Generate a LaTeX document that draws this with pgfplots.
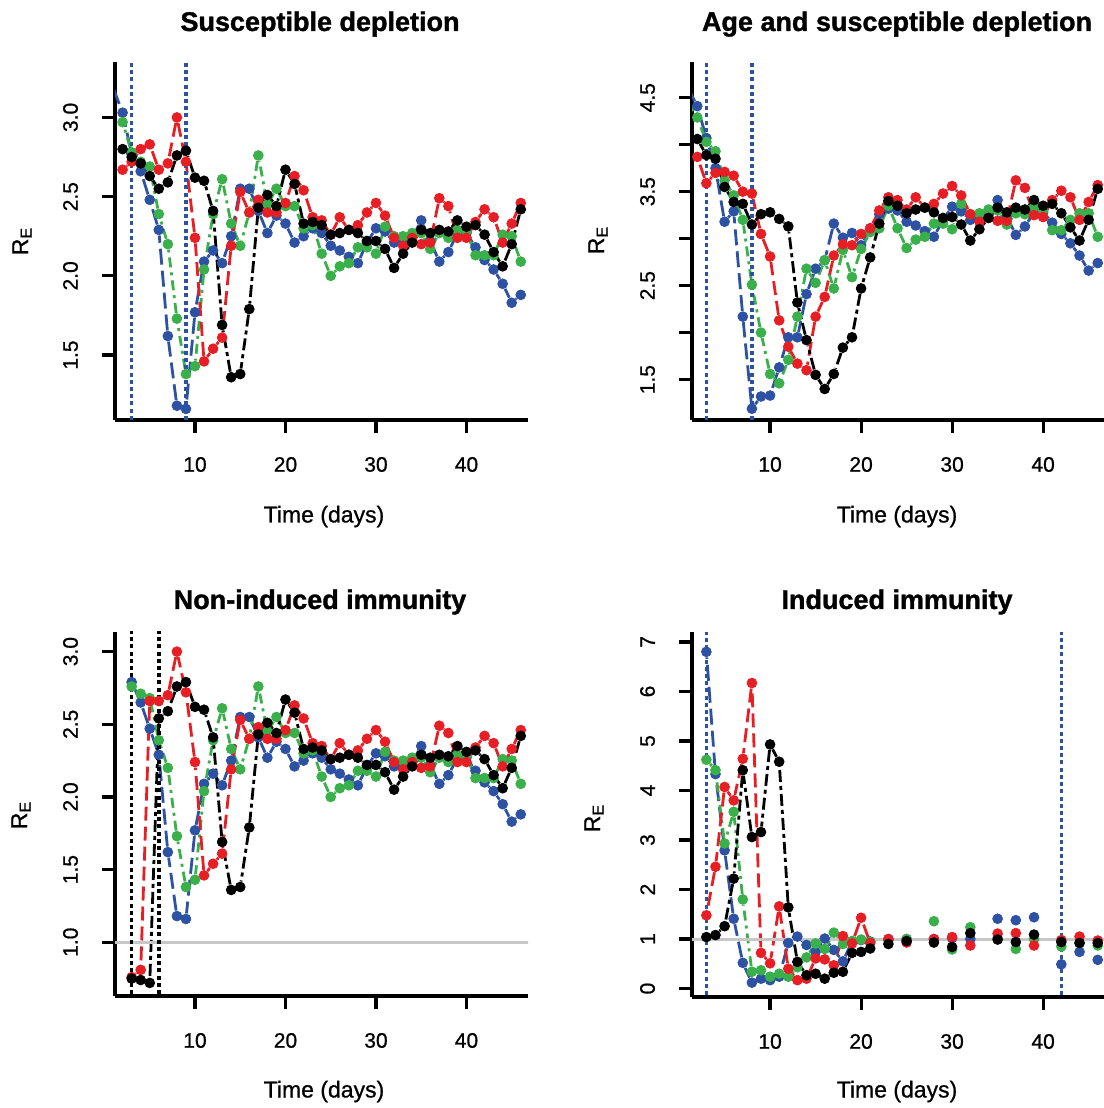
\documentclass[border=0pt]{standalone}
\usepackage{fontspec}
\setmainfont{Liberation Sans}
\newfontfamily\labfont{Liberation Sans}[FakeBold=0.8]
\newfontfamily\titfont{Liberation Sans}[BoldFeatures={FakeBold=1.2}]
\usepackage{pgfplots}
\pgfplotsset{compat=1.18}
\usepackage{pgfplotstable}

\definecolor{rblue}{RGB}{46,82,163}
\definecolor{rred}{RGB}{232,30,37}
\definecolor{rgreen}{RGB}{57,176,74}

\pgfplotstableread{
d b g r k
2 3.03 2.97 2.67 2.80
3 2.77 2.78 2.72 2.75
4 2.66 2.72 2.80 2.71
5 2.48 2.69 2.83 2.63
6 2.29 2.39 2.67 2.55
7 1.62 2.20 2.71 2.59
8 1.18 1.73 3.00 2.76
9 1.16 1.38 2.72 2.79
10 1.77 1.43 2.24 2.62
11 2.09 2.04 1.46 2.60
12 2.16 2.39 1.54 2.41
13 2.08 2.61 1.61 1.69
14 2.25 2.33 2.19 1.36
15 2.55 2.19 2.53 1.38
16 2.55 2.40 2.40 1.79
17 2.41 2.76 2.48 2.43
18 2.27 2.45 2.40 2.51
19 2.38 2.55 2.40 2.44
20 2.33 2.44 2.46 2.67
21 2.21 2.44 2.63 2.58
22 2.25 2.30 2.54 2.33
23 2.30 2.32 2.37 2.34
24 2.27 2.14 2.35 2.32
25 2.19 2.00 2.26 2.26
26 2.16 2.06 2.37 2.27
27 2.12 2.08 2.29 2.29
28 2.08 2.18 2.32 2.27
29 2.21 2.18 2.40 2.22
30 2.30 2.14 2.46 2.22
31 2.28 2.31 2.38 2.17
32 2.21 2.25 2.24 2.05
33 2.21 2.25 2.19 2.14
34 2.24 2.27 2.24 2.21
35 2.35 2.27 2.20 2.29
36 2.22 2.17 2.21 2.27
37 2.09 2.27 2.49 2.29
38 2.15 2.24 2.44 2.28
39 2.27 2.29 2.24 2.35
40 2.27 2.28 2.24 2.31
41 2.18 2.13 2.34 2.32
42 2.10 2.13 2.42 2.26
43 2.04 2.13 2.37 2.15
44 1.95 2.26 2.21 2.06
45 1.83 2.25 2.33 2.20
46 1.88 2.09 2.46 2.42
}\Pone

\pgfplotstableread{
d b g r k
3 2.79 2.76 0.76 0.75
4 2.65 2.71 0.81 0.74
5 2.47 2.68 2.66 0.72
6 2.29 2.39 2.66 2.54
7 1.62 2.20 2.70 2.59
8 1.18 1.73 3.00 2.76
9 1.16 1.38 2.72 2.79
10 1.77 1.43 2.24 2.62
11 2.09 2.04 1.46 2.60
12 2.16 2.39 1.54 2.41
13 2.08 2.61 1.61 1.69
14 2.25 2.33 2.19 1.36
15 2.55 2.19 2.53 1.38
16 2.55 2.40 2.40 1.79
17 2.41 2.76 2.48 2.43
18 2.27 2.45 2.40 2.51
19 2.38 2.55 2.40 2.44
20 2.33 2.44 2.46 2.67
21 2.21 2.44 2.63 2.58
22 2.25 2.30 2.54 2.33
23 2.30 2.32 2.37 2.34
24 2.27 2.14 2.35 2.32
25 2.19 2.00 2.26 2.26
26 2.16 2.06 2.37 2.27
27 2.12 2.08 2.29 2.29
28 2.08 2.18 2.32 2.27
29 2.21 2.18 2.40 2.22
30 2.30 2.14 2.46 2.22
31 2.28 2.31 2.38 2.17
32 2.21 2.25 2.24 2.05
33 2.21 2.25 2.19 2.14
34 2.24 2.27 2.24 2.21
35 2.35 2.27 2.20 2.29
36 2.22 2.17 2.21 2.27
37 2.09 2.27 2.49 2.29
38 2.15 2.24 2.44 2.28
39 2.27 2.29 2.24 2.35
40 2.27 2.28 2.24 2.31
41 2.18 2.13 2.34 2.32
42 2.10 2.13 2.42 2.26
43 2.04 2.13 2.37 2.15
44 1.95 2.26 2.21 2.06
45 1.83 2.25 2.33 2.20
46 1.88 2.09 2.46 2.42
}\Pthree

\pgfplotstableread{
d b g r k
2 4.41 4.29 3.87 4.06
3 4.07 4.03 3.59 3.89
4 3.75 3.93 3.70 3.85
5 3.18 3.62 3.71 3.55
6 3.29 3.46 3.67 3.39
7 2.17 3.20 3.50 3.37
8 1.19 2.51 3.48 3.15
9 1.32 2.00 3.05 3.26
10 1.33 1.56 2.81 3.28
11 1.63 1.46 2.13 3.21
12 1.95 1.71 1.85 3.13
13 1.95 2.17 1.67 2.32
14 2.41 2.68 1.60 1.92
15 2.68 2.53 2.17 1.55
16 2.77 2.77 2.38 1.40
17 3.16 2.47 2.82 1.56
18 3.01 2.88 2.94 1.84
19 3.06 2.59 2.93 1.95
20 2.93 2.89 3.05 2.47
21 3.11 3.07 3.11 2.80
22 3.26 3.11 3.30 3.16
23 3.32 3.35 3.44 3.40
24 3.30 3.11 3.41 3.35
25 3.18 2.90 3.31 3.27
26 3.14 2.99 3.44 3.31
27 3.08 3.02 3.33 3.33
28 3.02 3.16 3.37 3.28
29 3.20 3.16 3.48 3.22
30 3.34 3.10 3.56 3.23
31 3.29 3.37 3.46 3.15
32 3.20 3.26 3.26 2.98
33 3.23 3.27 3.18 3.10
34 3.25 3.31 3.22 3.22
35 3.41 3.30 3.19 3.33
36 3.24 3.15 3.19 3.28
37 3.04 3.27 3.62 3.33
38 3.13 3.26 3.54 3.31
39 3.28 3.34 3.25 3.41
40 3.28 3.30 3.23 3.35
41 3.17 3.09 3.41 3.37
42 3.05 3.09 3.51 3.27
43 2.95 3.20 3.44 3.12
44 2.82 3.27 3.20 2.98
45 2.66 3.27 3.39 3.20
46 2.74 3.02 3.57 3.53
}\Ptwo

\pgfplotstableread{
d b g r k
3 6.80 4.62 1.48 1.04
4 4.33 4.41 2.46 1.08
5 2.79 2.93 4.07 1.26
6 1.41 3.57 3.80 2.22
7 0.52 1.80 4.64 4.41
8 0.12 0.34 6.17 3.06
9 0.20 0.37 0.72 3.16
10 0.17 0.24 0.51 4.93
11 0.24 0.30 1.66 4.58
12 0.92 0.24 0.40 1.64
13 1.05 0.43 0.17 0.54
14 0.88 0.63 0.20 0.27
15 0.74 0.91 0.61 0.30
16 1.01 0.80 0.59 0.20
17 0.78 1.13 0.47 0.32
18 0.55 0.90 1.06 0.34
19 0.95 0.96 0.91 0.72
20 0.98 0.99 1.43 0.74
21 0.95 0.94 0.92 0.81
}\Pfour

\pgfplotstableread{
d b g r k
23 1.00 0.97 1.00 0.90
25 1.00 1.00 0.93 0.96
28 1.00 1.36 1.00 0.93
30 1.02 0.79 1.04 0.84
32 1.00 1.24 0.87 1.12
35 1.41 1.02 1.11 0.99
37 1.38 0.80 1.12 0.94
39 1.44 1.00 0.87 1.09
42 0.49 0.85 0.98 0.94
44 0.74 0.92 1.05 0.92
46 0.58 0.87 0.97 0.92
}\Pfourlate

% differences to the previous day, for line segments with gaps round the points
\newcommand\mkcols[1]{%
  \pgfplotstablecreatecol[create col/expr={\prevrow{d}-\thisrow{d}}]{ud}#1%
  \pgfplotstablecreatecol[create col/expr={\prevrow{b}-\thisrow{b}}]{vb}#1%
  \pgfplotstablecreatecol[create col/expr={\prevrow{g}-\thisrow{g}}]{vg}#1%
  \pgfplotstablecreatecol[create col/expr={\prevrow{r}-\thisrow{r}}]{vr}#1%
  \pgfplotstablecreatecol[create col/expr={\prevrow{k}-\thisrow{k}}]{vk}#1%
}
\mkcols\Pone
\mkcols\Ptwo
\mkcols\Pthree
\mkcols\Pfour

\pgfplotsset{
  rpanel/.style={
    scale only axis, anchor=south west, width=206.5pt,
    axis x line*=bottom, axis y line*=left,
    axis line style={-, line width=1.6pt},
    every tick/.style={black, line width=1.6pt},
    major tick length=6.5pt, tick align=outside,
    xtick={10,20,30,40}, xticklabels={10,20,30,40},
    ticklabel style={font=\labfont\fontsize{10.5}{12}\selectfont, black},
    xticklabel style={yshift=-8.5pt},
    yticklabel style={xshift=-8.5pt, rotate=90, anchor=south},
    /pgf/number format/assume math mode=true,
  },
  ql/.style={mark=none, line width=1.4pt,
    quiver={u=\thisrow{ud}, v=\thisrow{#1},
      every arrow/.append style={shorten <=2.8pt, shorten >=2.8pt}},
    skip coords between index={0}{1}},
  pts/.style={only marks, mark=*, mark size=2.45pt},
  db/.style={rblue, dash pattern=on 8pt off 3pt},
  dg/.style={rgreen, dash pattern=on 5pt off 2.5pt on 1.5pt off 2.5pt},
  dr/.style={rred, dash pattern=on 7pt off 3pt},
  dk/.style={black, dash pattern=on 6pt off 2pt on 2pt off 2pt},
  vl/.style={line width=1.8pt, dash pattern=on 2pt off 1.6pt},
  hl/.style={black!22, line width=1.5pt},
}

\newcommand\series[1]{%
  \addplot[db, ql=vb] table[x=d,y=b]{#1};
  \addplot[rblue, pts] table[x=d,y=b]{#1};
  \addplot[dg, ql=vg] table[x=d,y=g]{#1};
  \addplot[rgreen, pts] table[x=d,y=g]{#1};
  \addplot[dr, ql=vr] table[x=d,y=r]{#1};
  \addplot[rred, pts] table[x=d,y=r]{#1};
  \addplot[dk, ql=vk] table[x=d,y=k]{#1};
  \addplot[black, pts] table[x=d,y=k]{#1};
}

\begin{document}
\begin{tikzpicture}
\useasboundingbox (0,0) rectangle (551.5pt,554pt);

% Panel 1
\begin{axis}[rpanel, at={(57.5pt,344pt)}, height=179pt,
  xmin=1.16, xmax=46.8, ymin=1.09, ymax=3.35,
  ytick={1.5,2.0,2.5,3.0}, yticklabels={1.5,2.0,2.5,3.0}]
\addplot[db, line width=1.4pt, shorten >=2.8pt] coordinates {(1,3.18)(2,3.03)};
\series\Pone
\addplot[vl, rblue] coordinates {(3,0)(3,5)};
\addplot[vl, rblue] coordinates {(9,0)(9,5)};
\end{axis}

% Panel 2
\begin{axis}[rpanel, at={(346pt,344pt)}, height=179pt,
  xmin=1.42, xmax=46.8, ymin=1.07, ymax=4.88,
  ytick={1.5,2.0,2.5,3.0,3.5,4.0,4.5}, yticklabels={1.5,,2.5,,3.5,,4.5}]
\addplot[db, line width=1.4pt, shorten >=2.8pt] coordinates {(1,4.60)(2,4.41)};
\addplot[dg, line width=1.4pt, shorten >=2.8pt] coordinates {(1,4.45)(2,4.29)};
\series\Ptwo
\addplot[vl, rblue] coordinates {(3,0)(3,6)};
\addplot[vl, rblue] coordinates {(8,0)(8,6)};
\end{axis}

% Panel 3
\begin{axis}[rpanel, at={(57.5pt,56pt)}, height=182pt,
  xmin=1.16, xmax=46.8, ymin=0.63, ymax=3.135,
  ytick={1.0,1.5,2.0,2.5,3.0}, yticklabels={1.0,1.5,2.0,2.5,3.0}]
\series\Pthree
\addplot[hl] coordinates {(0,1)(50,1)};
\addplot[vl, black] coordinates {(3,0)(3,5)};
\addplot[vl, black] coordinates {(6,0)(6,5)};
\end{axis}

% Panel 4
\begin{axis}[rpanel, at={(346pt,55.5pt)}, height=182.5pt,
  xmin=1.42, xmax=46.8, ymin=-0.17, ymax=7.2,
  ytick={0,1,2,3,4,5,6,7}, yticklabels={0,1,2,3,4,5,6,7}]
\series\Pfour
\addplot[rblue, pts] table[x=d,y=b]{\Pfourlate};
\addplot[rgreen, pts] table[x=d,y=g]{\Pfourlate};
\addplot[rred, pts] table[x=d,y=r]{\Pfourlate};
\addplot[black, pts] table[x=d,y=k]{\Pfourlate};
\addplot[hl] coordinates {(0,1)(50,1)};
\addplot[vl, rblue] coordinates {(3,-1)(3,8)};
\addplot[vl, rblue] coordinates {(42,-1)(42,8)};
\end{axis}

% titles
\begin{scope}[every node/.style={font=\titfont\bfseries\fontsize{13.5}{16}\selectfont, anchor=base}]
\node at (160pt,538.5pt) {Susceptible depletion};
\node at (448.5pt,538.5pt) {Age and susceptible depletion};
\node at (160pt,249.5pt) {Non-induced immunity};
\node at (448.5pt,249.5pt) {Induced immunity};
\end{scope}
% x labels
\begin{scope}[every node/.style={font=\labfont\fontsize{11.5}{13}\selectfont, anchor=base}]
\node at (162pt,292.75pt) {Time (days)};
\node at (448.5pt,292.75pt) {Time (days)};
\node at (162pt,5.25pt) {Time (days)};
\node at (448.5pt,5.25pt) {Time (days)};
\end{scope}
% y labels
\begin{scope}[every node/.style={font=\labfont\fontsize{11.5}{13}\selectfont, rotate=90}]
\node at (11pt,433.5pt) {R\textsubscript{E}};
\node at (299pt,434pt) {R\textsubscript{E}};
\node at (10.5pt,146.5pt) {R\textsubscript{E}};
\node at (297pt,145pt) {R\textsubscript{E}};
\end{scope}
\end{tikzpicture}
\end{document}
